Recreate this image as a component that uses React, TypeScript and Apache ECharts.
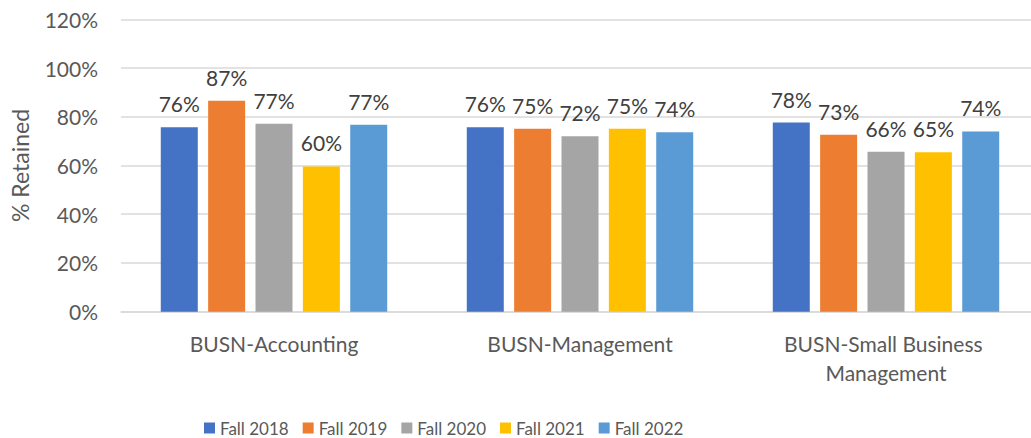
import React, { useEffect, useRef } from "react";
import * as echarts from "echarts";

const categories = ["BUSN-Accounting", "BUSN-Management", "BUSN-Small Business Management"];
const seriesNames = ["Fall 2018", "Fall 2019", "Fall 2020", "Fall 2021", "Fall 2022"];
const fall2018 = [75.7, 75.7, 77.6];
const fall2019 = [86.6, 75.1, 72.6];
const fall2020 = [77.1, 72.0, 65.6];
const fall2021 = [59.6, 75.1, 65.4];
const fall2022 = [76.7, 73.6, 74.0];
const yTicks = [0, 20, 40, 60, 80, 100, 120];
const colors = ["#4472C4", "#ED7D31", "#A5A5A5", "#FFC000", "#5B9BD5"];

const FONT = "Lato, 'Open Sans', sans-serif";

export default function App() {
  const ref = useRef<HTMLDivElement>(null);
  useEffect(() => {
    if (!ref.current) return;
    const chart = echarts.init(ref.current, null, { renderer: "svg" });
    const data = [fall2018, fall2019, fall2020, fall2021, fall2022];
    chart.setOption({
      animation: false,
      textStyle: { fontFamily: FONT },
      legend: {
        data: seriesNames,
        left: 199,
        top: 412,
        itemWidth: 11,
        itemHeight: 11,
        itemGap: 14,
        icon: "rect",
        textStyle: { fontFamily: FONT, fontSize: 17, color: "#595959", lineHeight: 22 },
      },
      grid: { left: 118, right: 0, top: 19.3, bottom: 126.3 },
      xAxis: {
        type: "category",
        data: categories,
        axisLine: { lineStyle: { color: "#D9D9D9", width: 1.5 } },
        axisTick: { show: false },
        axisLabel: {
          interval: 0,
          margin: 17,
          fontFamily: FONT,
          fontSize: 21,
          color: "#595959",
          width: 250,
          overflow: "break",
          lineHeight: 29,
        },
      },
      yAxis: {
        type: "value",
        min: yTicks[0],
        max: yTicks[yTicks.length - 1],
        interval: 20,
        name: "% Retained",
        nameLocation: "middle",
        nameGap: 90,
        nameTextStyle: { fontFamily: FONT, fontSize: 23, color: "#595959" },
        axisLine: { show: false },
        axisTick: { show: false },
        splitLine: { lineStyle: { color: "#D9D9D9", width: 1.5 } },
        axisLabel: {
          margin: 23,
          fontFamily: FONT,
          fontSize: 21,
          color: "#595959",
          formatter: (v: number) => v + "%",
        },
      },
      series: seriesNames.map((name, i) => ({
        name,
        type: "bar",
        data: data[i],
        barWidth: 37,
        barGap: "28%",
        itemStyle: { color: colors[i] },
        label: {
          show: true,
          position: "top",
          distance: 13,
          fontFamily: FONT,
          fontSize: 21,
          color: "#404040",
          formatter: (p: any) => Math.round(p.value) + "%",
        },
      })),
    });
    return () => chart.dispose();
  }, []);
  return (
    <div style={{ position: "absolute", left: 0, top: 0, width: 1031, height: 438, overflow: "hidden", background: "#fff" }}>
      <div ref={ref} style={{ width: 1039, height: 438 }} />
    </div>
  );
}
